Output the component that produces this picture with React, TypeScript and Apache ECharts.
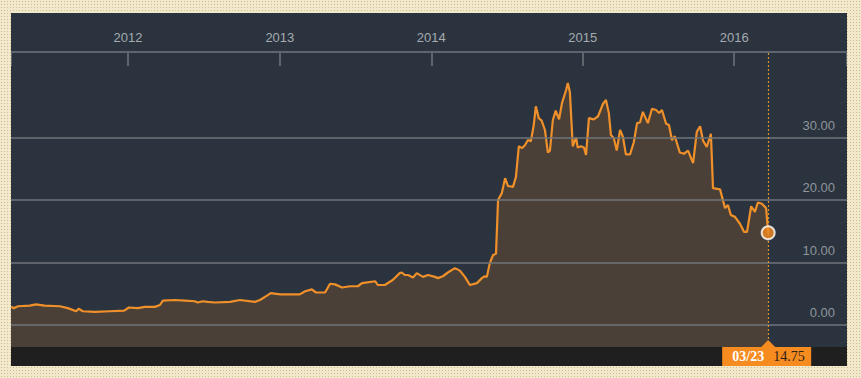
import { useEffect, useRef } from "react";
import * as echarts from "echarts";

const dates = [
  "2011-03-25", "2011-04-01", "2011-04-11", "2011-05-09", "2011-05-24", "2011-06-14",
  "2011-07-21", "2011-08-09", "2011-08-29", "2011-09-04", "2011-09-14", "2011-10-13",
  "2011-11-18", "2011-12-23", "2012-01-03", "2012-01-25", "2012-02-10", "2012-03-06",
  "2012-03-18", "2012-03-25", "2012-04-23", "2012-05-17", "2012-06-10", "2012-06-17",
  "2012-06-29", "2012-07-11", "2012-07-28", "2012-09-03", "2012-09-27", "2012-11-02",
  "2012-11-14", "2012-12-01", "2012-12-10", "2013-01-02", "2013-01-25", "2013-02-18",
  "2013-03-03", "2013-03-19", "2013-03-29", "2013-04-20", "2013-05-02", "2013-05-14",
  "2013-05-31", "2013-06-19", "2013-07-08", "2013-07-18", "2013-08-19", "2013-08-25",
  "2013-09-11", "2013-09-30", "2013-10-17", "2013-10-22", "2013-10-29", "2013-11-06",
  "2013-11-18", "2013-11-27", "2013-12-12", "2013-12-24", "2014-01-10", "2014-01-17",
  "2014-01-29", "2014-02-10", "2014-02-27", "2014-03-11", "2014-03-23", "2014-04-04",
  "2014-04-21", "2014-05-03", "2014-05-10", "2014-05-15", "2014-05-22", "2014-05-30",
  "2014-06-06", "2014-06-11", "2014-06-20", "2014-06-28", "2014-07-05", "2014-07-10",
  "2014-07-17", "2014-07-24", "2014-07-31", "2014-08-08", "2014-08-15", "2014-08-22",
  "2014-08-29", "2014-09-05", "2014-09-10", "2014-09-17", "2014-09-24", "2014-10-02",
  "2014-10-09", "2014-10-14", "2014-10-21", "2014-10-28", "2014-11-05", "2014-11-12",
  "2014-11-22", "2014-11-26", "2014-12-01", "2014-12-08", "2014-12-16", "2014-12-20",
  "2014-12-28", "2015-01-04", "2015-01-09", "2015-01-16", "2015-01-28", "2015-02-07",
  "2015-02-19", "2015-02-26", "2015-03-05", "2015-03-10", "2015-03-17", "2015-03-24",
  "2015-04-01", "2015-04-08", "2015-04-15", "2015-04-25", "2015-05-04", "2015-05-12",
  "2015-05-19", "2015-05-26", "2015-06-07", "2015-06-17", "2015-06-27", "2015-07-04",
  "2015-07-11", "2015-07-21", "2015-07-28", "2015-08-04", "2015-08-11", "2015-08-23",
  "2015-09-02", "2015-09-12", "2015-09-24", "2015-10-03", "2015-10-11", "2015-10-18",
  "2015-10-27", "2015-11-06", "2015-11-11", "2015-11-28", "2015-12-10", "2015-12-17",
  "2015-12-24", "2016-01-03", "2016-01-15", "2016-01-25", "2016-02-01", "2016-02-11",
  "2016-02-20", "2016-02-27", "2016-03-08", "2016-03-18", "2016-03-23",
];

const values = [
  2.9, 2.7, 3.0, 3.1, 3.3, 3.1,
  3.0, 2.7, 2.2, 2.6, 2.2, 2.1,
  2.2, 2.3, 2.8, 2.7, 2.9, 2.9,
  3.2, 3.9, 4.0, 3.9, 3.8, 3.6,
  3.8, 3.7, 3.6, 3.7, 4.0, 3.7,
  4.0, 4.7, 5.1, 4.9, 4.9, 4.9,
  5.4, 5.7, 5.2, 5.2, 6.6, 6.5,
  6.0, 6.2, 6.2, 6.7, 7.0, 6.4,
  6.4, 7.2, 8.3, 8.4, 8.0, 8.0,
  7.6, 8.3, 7.7, 8.0, 7.7, 7.5,
  7.8, 8.4, 9.1, 8.7, 7.7, 6.4,
  6.7, 7.5, 7.8, 7.7, 9.9, 11.2,
  11.4, 20.0, 21.1, 23.5, 22.2, 22.2,
  22.1, 23.7, 28.6, 28.3, 28.8, 29.6,
  29.4, 32.0, 35.0, 33.1, 32.7, 31.2,
  27.6, 27.9, 32.8, 34.3, 32.9, 35.5,
  37.6, 38.7, 37.3, 28.6, 30.0, 28.4,
  28.6, 28.4, 27.2, 33.1, 32.9, 33.4,
  35.4, 36.0, 33.9, 30.4, 29.9, 27.9,
  31.2, 30.1, 27.3, 27.3, 29.2, 32.3,
  32.4, 34.1, 32.3, 34.6, 34.4, 33.9,
  34.4, 32.2, 32.0, 29.6, 30.2, 27.6,
  27.4, 27.9, 25.9, 30.9, 31.8, 29.5,
  28.5, 30.6, 21.9, 21.7, 18.7, 19.2,
  17.6, 17.3, 16.2, 14.9, 14.9, 19.0,
  18.1, 19.6, 19.4, 18.7, 14.75,
];

const yTicks = [0, 10, 20, 30];
const yearTicks = ["2012-01-01", "2013-01-01", "2014-01-01", "2015-01-01", "2016-01-01"];
const xMin = "2011-03-25";
const xMax = "2016-09-29";
const yMin = -3.52;
const yMax = 43.68;

const ts = (s: string) => new Date(s + "T00:00:00").getTime();

export default function App() {
  const ref = useRef<HTMLDivElement>(null);

  useEffect(() => {
    const chart = echarts.init(ref.current!, null, { renderer: "svg" });
    const data = dates.map((d, i) => [ts(d), values[i]]);
    const lastDate = dates[dates.length - 1];
    const lastValue = values[values.length - 1];
    const orange = "#f68b1f";

    chart.setOption({
      animation: false,
      backgroundColor: "#2a333e",
      grid: { left: 0, right: 0, top: 39, bottom: 19 },
      xAxis: {
        type: "value",
        position: "top",
        min: ts(xMin),
        max: ts(xMax),
        axisLine: { show: true, onZero: false, lineStyle: { color: "#5f656c", width: 2 } },
        axisTick: {
          show: true,
          inside: true,
          length: 14,
          customValues: [ts(xMin), ...yearTicks.map(ts), ts(xMax)],
          lineStyle: { color: "#5f656c", width: 2 },
        },
        axisLabel: {
          show: true,
          customValues: yearTicks.map(ts),
          formatter: (v: number) => String(new Date(v).getFullYear()),
          color: "#a6abb0",
          fontSize: 13,
          fontFamily: "Liberation Sans, Arial, sans-serif",
          margin: 8,
        },
        splitLine: { show: false },
      },
      yAxis: {
        type: "value",
        min: yMin,
        max: yMax,
        show: false,
        splitLine: { show: false },
      },
      series: [
        {
          type: "line",
          data,
          showSymbol: false,
          symbol: "none",
          lineStyle: { color: "#f0902a", width: 2.2 },
          areaStyle: { color: "#4a4037", opacity: 1, origin: "start" },
          z: 2,
          markLine: {
            silent: true,
            symbol: "none",
            animation: false,
            data: [
              ...yTicks.map((v) => ({
                yAxis: v,
                lineStyle: { color: "#70757a", width: 1.5, type: "solid" },
                label: {
                  show: true,
                  position: "insideEndTop",
                  distance: [12, 6],
                  formatter: () => v.toFixed(2),
                  color: "#8f959b",
                  fontSize: 13,
                  fontFamily: "Liberation Sans, Arial, sans-serif",
                },
              })),
              {
                xAxis: ts(lastDate),
                lineStyle: { color: "#d99136", width: 1.2, type: [2, 2] },
                label: { show: false },
              },
            ],
          },
        },
        {
          type: "scatter",
          data: [[ts(lastDate), lastValue]],
          symbolSize: 13,
          itemStyle: { color: orange, borderColor: "#ffffff", borderWidth: 2 },
          z: 5,
        },
      ],
    });

    const [px] = chart.convertToPixel({ gridIndex: 0 }, [ts(lastDate), yMin]) as number[];
    const h = chart.getHeight();
    const w = chart.getWidth();
    const [, mm, dd] = lastDate.split("-");
    chart.setOption({
      graphic: [
        {
          type: "rect",
          shape: { x: 0, y: h - 19, width: w, height: 19 },
          style: { fill: "#201f1f" },
          z: 1,
          silent: true,
        },
        {
          type: "polygon",
          shape: { points: [[px - 7, h - 19], [px + 7, h - 19], [px, h - 26]] },
          style: { fill: orange },
          z: 10,
        },
        {
          type: "rect",
          shape: { x: px - 46, y: h - 19, width: 89, height: 19 },
          style: { fill: orange },
          z: 10,
        },
        {
          type: "text",
          x: px - 4,
          y: h - 9.5,
          style: {
            text: `${mm}/${dd}`,
            fill: "#ffffff",
            font: "bold 14px 'Liberation Serif', 'DejaVu Serif', serif",
            align: "right",
            verticalAlign: "middle",
          },
          z: 11,
        },
        {
          type: "text",
          x: px + 5,
          y: h - 9.5,
          style: {
            text: lastValue.toFixed(2),
            fill: "#2b2118",
            font: "14px 'Liberation Serif', 'DejaVu Serif', serif",
            align: "left",
            verticalAlign: "middle",
          },
          z: 11,
        },
      ],
    });

    return () => chart.dispose();
  }, []);

  return (
    <div
      style={{
        position: "absolute",
        left: 0,
        top: 0,
        width: 861,
        height: 378,
        backgroundColor: "#f2e8cb",
        backgroundImage: "radial-gradient(#cdbd90 0.9px, transparent 1px)",
        backgroundSize: "3px 3px",
      }}
    >
      <div
        ref={ref}
        style={{ position: "absolute", left: 11, top: 13, width: 836, height: 353 }}
      />
    </div>
  );
}
